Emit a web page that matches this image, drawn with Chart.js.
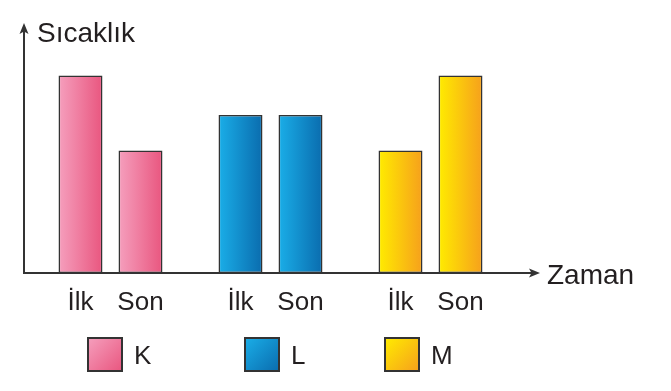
<!DOCTYPE html>
<html><head><meta charset="utf-8">
<script src="https://cdn.jsdelivr.net/npm/chart.js@4/dist/chart.umd.min.js"></script>
<style>html,body{margin:0;padding:0;background:#fff;overflow:hidden}#wrap{width:671px;height:391px;position:relative}</style>
</head><body><div id="wrap"><canvas id="c"></canvas></div>
<script>
// ---- data ----
const groups = ['K', 'L', 'M'];
const phases = ['İlk', 'Son'];
const firstValues = [5, 4, 3.1];
const lastValues = [3.1, 4, 5];
const yAxisTitle = 'Sıcaklık';
const xAxisTitle = 'Zaman';
const yMax = 6.2;

// ---- styles ----
const palette = {
  K: ['#f59fbd', '#e9567f'],
  L: ['#1aaee8', '#0a6cae'],
  M: ['#ffec00', '#f6a01c']
};
const INK = '#231f20';
const EDGE = '#333333';
const FONT = '"Liberation Sans", Arial, Helvetica, sans-serif';

function barGradient(ctx, x0, x1, cols) {
  const g = ctx.createLinearGradient(x0, 0, x1, 0);
  g.addColorStop(0, cols[0]);
  g.addColorStop(1, cols[1]);
  return g;
}

const decor = {
  id: 'decor',
  afterDatasetsUpdate(chart) {
    const ctx = chart.ctx;
    chart.data.datasets.forEach((ds, di) => {
      const meta = chart.getDatasetMeta(di);
      meta.data.forEach((el, i) => {
        const cols = palette[groups[i]];
        const x0 = el.x - el.width / 2, x1 = el.x + el.width / 2;
        el.options = Object.assign({}, el.options, {
          backgroundColor: barGradient(ctx, x0, x1, cols),
          borderColor: EDGE
        });
      });
    });
  },
  afterDraw(chart) {
    const ctx = chart.ctx;
    const y0 = chart.scales.y.getPixelForValue(0);
    const axX = 24, topY = 23, rightX = 540;
    ctx.save();
    // axes
    ctx.strokeStyle = '#333333';
    ctx.fillStyle = '#333333';
    ctx.lineWidth = 2;
    ctx.beginPath();
    ctx.moveTo(axX, y0);
    ctx.lineTo(axX, topY + 8);
    ctx.moveTo(axX - 1, y0);
    ctx.lineTo(rightX - 8, y0);
    ctx.stroke();
    // arrowheads
    ctx.beginPath();
    ctx.moveTo(axX, topY);
    ctx.lineTo(axX - 4.5, topY + 11);
    ctx.lineTo(axX, topY + 8.5);
    ctx.lineTo(axX + 4.5, topY + 11);
    ctx.closePath();
    ctx.fill();
    ctx.beginPath();
    ctx.moveTo(rightX, y0);
    ctx.lineTo(rightX - 11, y0 - 4.5);
    ctx.lineTo(rightX - 8.5, y0);
    ctx.lineTo(rightX - 11, y0 + 4.5);
    ctx.closePath();
    ctx.fill();

    // titles
    ctx.fillStyle = INK;
    ctx.font = '28px ' + FONT;
    ctx.textAlign = 'left';
    ctx.textBaseline = 'alphabetic';
    ctx.fillText(yAxisTitle, 37, 42);
    ctx.fillText(xAxisTitle, 547, 284);

    // tick labels under each bar
    ctx.font = '26px ' + FONT;
    ctx.textAlign = 'center';
    chart.data.datasets.forEach((ds, di) => {
      const meta = chart.getDatasetMeta(di);
      meta.data.forEach((el) => {
        ctx.fillText(ds.label, el.x, 310);
      });
    });

    // legend
    const legendLeft = [88, 245, 385];
    const bw = 34, bh = 33, by = 338;
    groups.forEach((g, i) => {
      const bx = legendLeft[i];
      const cols = palette[g];
      const grad = ctx.createLinearGradient(bx, by, bx + bw, by + bh);
      grad.addColorStop(0, cols[0]);
      grad.addColorStop(1, cols[1]);
      ctx.fillStyle = grad;
      ctx.fillRect(bx, by, bw, bh);
      ctx.strokeStyle = EDGE;
      ctx.lineWidth = 2;
      ctx.strokeRect(bx, by, bw, bh);
      ctx.fillStyle = INK;
      ctx.font = '26px ' + FONT;
      ctx.textAlign = 'left';
      ctx.fillText(g, bx + bw + 12, by + bh / 2 + 9.5);
    });
    ctx.restore();
  }
};

new Chart(document.getElementById('c'), {
  type: 'bar',
  data: {
    labels: groups,
    datasets: [
      { label: phases[0], data: firstValues, borderColor: EDGE, borderWidth: 1.6, borderSkipped: false, backgroundColor: '#cccccc', categoryPercentage: 0.75, barPercentage: 0.733 },
      { label: phases[1], data: lastValues, borderColor: EDGE, borderWidth: 1.6, borderSkipped: false, backgroundColor: '#cccccc', categoryPercentage: 0.75, barPercentage: 0.733 }
    ]
  },
  options: {
    responsive: true,
    maintainAspectRatio: false,
    animation: false,
    events: [],
    layout: { padding: { left: 30.5, right: 160.5, top: 28, bottom: 118 } },
    scales: {
      x: { display: false, offset: true },
      y: { display: false, min: 0, max: yMax }
    },
    plugins: { legend: { display: false }, tooltip: { enabled: false }, colors: { enabled: false } }
  },
  plugins: [decor]
});
</script>
</body></html>
